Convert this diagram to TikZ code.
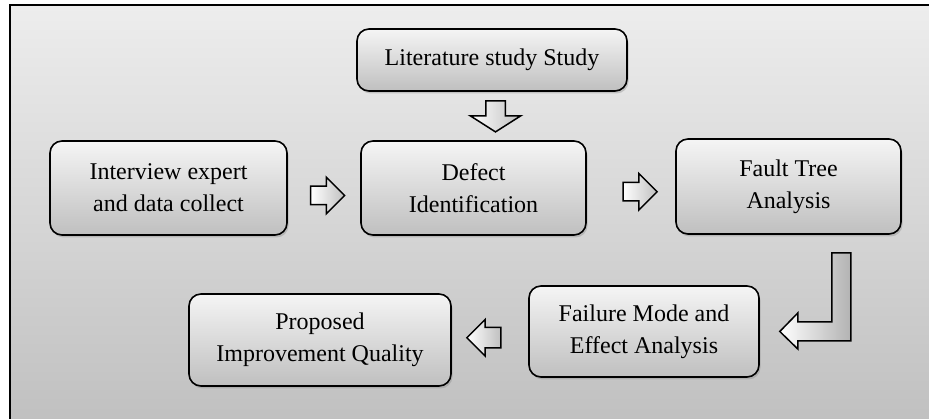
\documentclass[tikz,border=0pt]{standalone}
\usepackage{fontspec}
\setmainfont{Liberation Serif}
\usetikzlibrary{shapes.arrows, shadows, calc}

\tikzset{
  stepbox/.style={draw, line width=1.6pt, rounded corners=12pt, top color=black!4, bottom color=black!25,
    align=center, inner sep=0pt, font=\fontsize{24}{32}\selectfont,
    drop shadow={shadow xshift=1.5pt, shadow yshift=-2.5pt, opacity=0.35}},
  flowarrow/.style={single arrow, draw, line width=1.5pt, inner xsep=0pt, inner ysep=8.5pt,
    single arrow head extend=9pt, left color=white, right color=black!25},
  bentarrow/.style={draw, line width=1.5pt, left color=white, right color=black!30}
}

\begin{document}
\begin{tikzpicture}[x=1pt, y=1pt]
\useasboundingbox (0,0) rectangle (929,419);
\clip (0,0) rectangle (929,419);
% background panel
\draw[line width=2pt, top color=black!7, bottom color=black!25] (10,414) rectangle (945,-10);

% steps
\node[stepbox, minimum width=270pt, minimum height=62pt] (lit) at (492,359) {Literature study Study};
\node[stepbox, minimum width=237pt, minimum height=94pt] (interview) at (168.5,231) {Interview expert\\and data collect};
\node[stepbox, minimum width=225pt, minimum height=94pt] (defect) at (473.5,231) {Defect\\Identification};
\node[stepbox, minimum width=225pt, minimum height=95pt] (fault) at (788.5,232.5) {Fault Tree\\Analysis};
\node[stepbox, minimum width=230pt, minimum height=91pt] (fmea) at (644,87.5) {Failure Mode and\\Effect Analysis};
\node[stepbox, minimum width=262pt, minimum height=92pt] (proposed) at (320,79) {Proposed\\Improvement Quality};

% block arrows
\node[flowarrow, minimum height=31pt, inner ysep=9pt, single arrow head extend=15.5pt,
  single arrow tip angle=115, rotate=-90] (litdown) at ($(lit.south)+(3.5,-21.5)$) {};
\node[flowarrow, minimum height=34pt] (toDefect) at ($(interview.east)!0.5!(defect.west)+(-1,-7.5)$) {};
\node[flowarrow, minimum height=34pt] (toFault) at ($(defect.east)!0.5!(fault.west)+(4.5,-4.5)$) {};
\node[flowarrow, minimum height=34pt, inner ysep=9.5pt, single arrow head extend=8pt,
  rotate=180] (toProposed) at ($(proposed.east)!0.5!(fmea.west)+(-1,-2)$) {};

% bent arrow from fault tree down to fmea
\draw[bentarrow] ($(fmea.east)+(20,0)$) -- ++(18,18.5) -- ++(0,-9) -- ++(34,0) -- ++(0,69)
  -- ++(19,0) -- ++(0,-88) -- ++(-53,0) -- ++(0,-8) -- cycle;
\end{tikzpicture}
\end{document}
